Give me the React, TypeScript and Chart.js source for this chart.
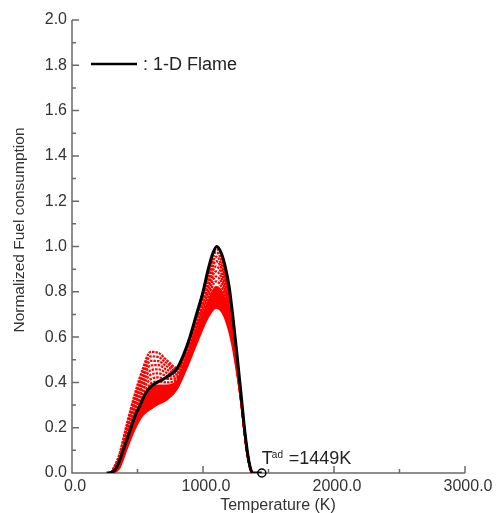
import { useEffect, useRef } from 'react';
import { Chart, registerables } from 'chart.js';

Chart.register(...registerables);

// ---- data ----
const flameT = [265, 300, 330, 360, 390, 420, 450, 480, 520, 560, 600, 650, 700, 750, 800, 850, 900, 950, 1000, 1040, 1075, 1105, 1140, 1170, 1200, 1230, 1260, 1290, 1320, 1345, 1365, 1380, 1449];
const flameY = [0, 0.002, 0.015, 0.05, 0.1, 0.15, 0.2, 0.25, 0.3, 0.35, 0.38, 0.4, 0.415, 0.435, 0.46, 0.52, 0.6, 0.7, 0.8, 0.9, 0.97, 1.0, 0.97, 0.91, 0.82, 0.68, 0.52, 0.35, 0.18, 0.07, 0.015, 0, 0];

const redT = [300, 360, 420, 480, 540, 600, 660, 720, 800, 880, 960, 1040, 1100, 1160, 1220, 1280, 1340, 1380, 1440];
const red00 = [0, 0.02, 0.11, 0.195, 0.255, 0.283, 0.305, 0.322, 0.37, 0.47, 0.585, 0.69, 0.73, 0.695, 0.575, 0.36, 0.075, 0, 0];
const red12 = [0, 0.027, 0.123, 0.214, 0.28, 0.313, 0.332, 0.343, 0.381, 0.481, 0.6, 0.712, 0.759, 0.722, 0.592, 0.364, 0.076, 0, 0];
const red24 = [0, 0.034, 0.136, 0.232, 0.304, 0.344, 0.359, 0.365, 0.393, 0.492, 0.615, 0.733, 0.789, 0.749, 0.61, 0.367, 0.077, 0, 0];
const red36 = [0, 0.042, 0.15, 0.251, 0.329, 0.374, 0.386, 0.386, 0.404, 0.502, 0.63, 0.758, 0.822, 0.776, 0.627, 0.371, 0.078, 0, 0];
const red44 = [0, 0.046, 0.158, 0.263, 0.345, 0.394, 0.404, 0.4, 0.412, 0.51, 0.642, 0.778, 0.846, 0.794, 0.639, 0.373, 0.079, 0, 0];
const red52 = [0, 0.051, 0.167, 0.276, 0.362, 0.414, 0.422, 0.415, 0.419, 0.517, 0.653, 0.795, 0.868, 0.812, 0.65, 0.376, 0.08, 0, 0];
const red60 = [0, 0.056, 0.176, 0.288, 0.378, 0.434, 0.44, 0.429, 0.427, 0.524, 0.664, 0.812, 0.89, 0.83, 0.662, 0.378, 0.081, 0, 0];
const red68 = [0, 0.061, 0.185, 0.3, 0.394, 0.454, 0.458, 0.443, 0.435, 0.531, 0.675, 0.828, 0.912, 0.848, 0.674, 0.38, 0.082, 0, 0];
const red76 = [0, 0.066, 0.194, 0.313, 0.411, 0.475, 0.476, 0.457, 0.442, 0.538, 0.686, 0.845, 0.935, 0.866, 0.685, 0.383, 0.083, 0, 0];
const red84 = [0, 0.07, 0.202, 0.325, 0.427, 0.495, 0.494, 0.472, 0.45, 0.546, 0.696, 0.86, 0.955, 0.884, 0.697, 0.385, 0.084, 0, 0];
const red92 = [0, 0.075, 0.211, 0.338, 0.444, 0.515, 0.512, 0.486, 0.457, 0.553, 0.705, 0.875, 0.975, 0.902, 0.708, 0.388, 0.085, 0, 0];
const red100 = [0, 0.08, 0.22, 0.35, 0.46, 0.535, 0.53, 0.5, 0.465, 0.56, 0.712, 0.89, 0.99, 0.92, 0.72, 0.39, 0.086, 0, 0];

const solidRed = [red00, red12, red24, red36];
const dottedRed = [red44, red52, red60, red68, red76, red84, red92, red100];

const adiabaticT = 1449;
const adiabaticY = 0;

const xMin = 0;
const xMax = 3000;
const xStep = 1000;
const xMinorStep = 500;
const yMin = 0;
const yMax = 2.0;
const yStep = 0.2;
const yMinorStep = 0.1;

const xTitle = 'Temperature (K)';
const yTitle = 'Normalized Fuel consumption';
const legendLabel = ': 1-D Flame';

const FONT = '"Liberation Sans", Arial, Helvetica, sans-serif';
const RED = '#ff0000';

const toPts = (xs: number[], ys: number[]) => xs.map((x, i) => ({ x, y: ys[i] }));

const decorPlugin = {
  id: 'decor',
  beforeDatasetsDraw(chart: any) {
    const { ctx, chartArea: a, scales } = chart;
    const xs = scales.x;
    const ys = scales.y;
    ctx.save();
    ctx.strokeStyle = '#6a6a6a';
    ctx.lineWidth = 1.5;
    ctx.beginPath();
    ctx.moveTo(a.left, a.top);
    ctx.lineTo(a.left, a.bottom);
    ctx.lineTo(a.right, a.bottom);
    for (let v = yMin; v <= yMax + 1e-9; v += yMinorStep) {
      const r = Math.round(v * 10);
      const p = ys.getPixelForValue(r / 10);
      const len = r % 2 === 0 ? 7 : 4;
      ctx.moveTo(a.left, p);
      ctx.lineTo(a.left + len, p);
    }
    for (let v = xMin; v <= xMax; v += xMinorStep) {
      const p = xs.getPixelForValue(v);
      const len = v % xStep === 0 ? 7 : 4;
      ctx.moveTo(p, a.bottom);
      ctx.lineTo(p, a.bottom - len);
    }
    ctx.stroke();
    ctx.restore();
  },
  afterDraw(chart: any) {
    const { ctx, chartArea: a, scales } = chart;
    const xs = scales.x;
    const ys = scales.y;
    ctx.save();
    ctx.fillStyle = '#333';
    ctx.save();
    ctx.translate(20, 230);
    ctx.rotate(-Math.PI / 2);
    ctx.font = `15.5px ${FONT}`;
    ctx.textAlign = 'center';
    ctx.textBaseline = 'middle';
    ctx.fillText(yTitle, 0, 0);
    ctx.restore();
    ctx.font = `16px ${FONT}`;
    ctx.textAlign = 'center';
    ctx.textBaseline = 'alphabetic';
    ctx.fillText(xTitle, 278, 510);
    ctx.strokeStyle = '#000';
    ctx.lineWidth = 2.5;
    ctx.beginPath();
    ctx.moveTo(a.left + 19, 64);
    ctx.lineTo(a.left + 65, 64);
    ctx.stroke();
    ctx.fillStyle = '#222';
    ctx.font = `18px ${FONT}`;
    ctx.textAlign = 'left';
    ctx.fillText(legendLabel, a.left + 71, 70);
    const x0 = xs.getPixelForValue(adiabaticT);
    const y0 = ys.getPixelForValue(adiabaticY);
    ctx.fillStyle = '#222';
    ctx.font = `18px ${FONT}`;
    ctx.fillText('T', x0, y0 - 9);
    ctx.font = `10px ${FONT}`;
    ctx.fillText('ad', x0 + 10, y0 - 15);
    ctx.font = `18px ${FONT}`;
    ctx.fillText('=1449K', x0 + 27, y0 - 9);
    ctx.restore();
  },
};

export default function App() {
  const ref = useRef<HTMLCanvasElement | null>(null);
  useEffect(() => {
    if (!ref.current) return;
    const datasets: any[] = [];
    datasets.push({
      data: [{ x: adiabaticT, y: adiabaticY }],
      showLine: false,
      pointRadius: 4,
      pointBorderWidth: 1.5,
      pointBorderColor: '#000',
      pointBackgroundColor: 'rgba(0,0,0,0)',
      clip: false,
    });
    datasets.push({
      data: toPts(flameT, flameY),
      borderColor: '#000',
      borderWidth: 3,
      pointRadius: 0,
      cubicInterpolationMode: 'monotone',
      fill: false,
    });
    dottedRed.slice().reverse().forEach((arr) => {
      datasets.push({
        data: toPts(redT, arr),
        borderColor: RED,
        borderWidth: 2.2,
        borderDash: [2.5, 1],
        pointRadius: 0,
        cubicInterpolationMode: 'monotone',
        fill: false,
      });
    });
    const solidStart = datasets.length;
    solidRed.slice().reverse().forEach((arr) => {
      datasets.push({
        data: toPts(redT, arr),
        borderColor: RED,
        borderWidth: 2,
        pointRadius: 0,
        cubicInterpolationMode: 'monotone',
        fill: false,
      });
    });
    datasets[datasets.length - 1].fill = solidStart;
    datasets[datasets.length - 1].backgroundColor = RED;

    const chart = new Chart(ref.current, {
      type: 'line',
      data: { datasets },
      options: {
        responsive: false,
        animation: false,
        devicePixelRatio: 1,
        events: [],
        layout: { padding: { top: 20, right: 37, left: 0, bottom: 0 } },
        plugins: { legend: { display: false }, tooltip: { enabled: false } },
        scales: {
          x: {
            type: 'linear',
            min: xMin,
            max: xMax,
            grid: { display: false, drawTicks: false },
            border: { display: false },
            ticks: {
              stepSize: xStep,
              color: '#333',
              font: { size: 16, family: FONT },
              padding: 4,
              labelOffset: 3,
              maxRotation: 0,
              autoSkip: false,
              callback: (v: any) => Number(v).toFixed(1),
            },
            afterFit: (s: any) => {
              s.height = 40;
            },
          },
          y: {
            type: 'linear',
            min: yMin,
            max: yMax,
            grid: { display: false, drawTicks: false },
            border: { display: false },
            ticks: {
              stepSize: yStep,
              color: '#333',
              font: { size: 16, family: FONT },
              padding: 5,
              callback: (v: any) => Number(v).toFixed(1),
            },
            afterFit: (s: any) => {
              s.width = 72;
            },
          },
        },
      },
      plugins: [decorPlugin],
    });
    return () => chart.destroy();
  }, []);
  return (
    <div style={{ position: 'absolute', left: 0, top: 0, width: 502, height: 513, background: '#fff' }}>
      <canvas ref={ref} width={502} height={513} />
    </div>
  );
}
